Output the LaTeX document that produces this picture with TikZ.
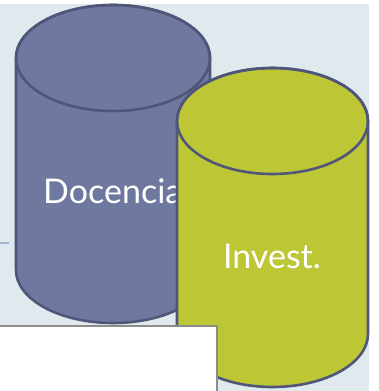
\documentclass[tikz,border=0pt]{standalone}
\usepackage{fontspec}
\setmainfont{Lato}
\definecolor{backblue}{HTML}{DFE9EE}
\definecolor{dashblue}{HTML}{9DB7CF}
\definecolor{docfill}{HTML}{6F799F}
\definecolor{rimline}{HTML}{4F5679}
\definecolor{invfill}{HTML}{BDC736}
\definecolor{boxline}{HTML}{8C8C8C}
\tikzset{
  rim/.style={draw=rimline, line width=2.6pt},
  cyltext/.style={text=white, font=\fontsize{34}{40}\selectfont, inner sep=0pt}
}
\begin{document}
\begin{tikzpicture}[x=1pt, y=-1pt]
\useasboundingbox (0,0) rectangle (378,391);
 % background:
\fill[backblue] (0,4) rectangle (369,391);
\draw[dashblue, line width=1.2pt] (0,243) -- (9,243);
 % cylinder Docencia:
\draw[rim, fill=docfill] (16,58) -- (16,270) arc (180:0:97 and 53) -- (210,58) arc (0:-180:97 and 53) -- cycle;
\draw[rim] (113,58) ellipse (97 and 53);
\node[cyltext, anchor=base west] (docencia) at (43,203) {Docencia};
 % cylinder Invest.:
\draw[rim, fill=invfill] (177,121) -- (177,334) arc (180:0:95.5 and 53) -- (368,121) arc (0:-180:95.5 and 53) -- cycle;
\draw[rim] (272.5,121) ellipse (95.5 and 53);
\node[cyltext, anchor=base] (invest) at (272,268) {Invest.};
 % white box:
\draw[boxline, line width=1.6pt, fill=white] (-5,326) rectangle (217,400);
\end{tikzpicture}
\end{document}
